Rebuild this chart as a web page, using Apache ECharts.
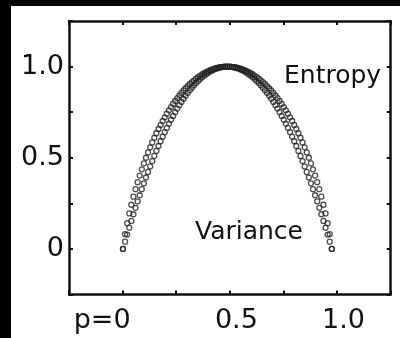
<!DOCTYPE html>
<html>
<head>
<meta charset="utf-8">
<script src="https://cdn.jsdelivr.net/npm/echarts@6/dist/echarts.min.js"></script>
<style>
  html, body { margin: 0; padding: 0; background: #000; width: 400px; height: 338px; overflow: hidden; }
  #chart { position: absolute; left: 11px; top: 6px; width: 389px; height: 332px; background: #fff; }
</style>
</head>
<body>
<div id="chart"></div>
<script>
// Probability of the outcome
const pValues = [
  0.00,0.01,0.02,0.03,0.04,0.05,0.06,0.07,0.08,0.09,
  0.10,0.11,0.12,0.13,0.14,0.15,0.16,0.17,0.18,0.19,
  0.20,0.21,0.22,0.23,0.24,0.25,0.26,0.27,0.28,0.29,
  0.30,0.31,0.32,0.33,0.34,0.35,0.36,0.37,0.38,0.39,
  0.40,0.41,0.42,0.43,0.44,0.45,0.46,0.47,0.48,0.49,
  0.50,0.51,0.52,0.53,0.54,0.55,0.56,0.57,0.58,0.59,
  0.60,0.61,0.62,0.63,0.64,0.65,0.66,0.67,0.68,0.69,
  0.70,0.71,0.72,0.73,0.74,0.75,0.76,0.77,0.78,0.79,
  0.80,0.81,0.82,0.83,0.84,0.85,0.86,0.87,0.88,0.89,
  0.90,0.91,0.92,0.93,0.94,0.95,0.96,0.97,0.98,0.99,
  1.00
];

// Binary entropy (bits)
const entropy = [
  0,0.0808,0.1414,0.1944,0.2423,0.2864,0.3274,0.3659,0.4022,0.4365,
  0.4690,0.4999,0.5294,0.5574,0.5842,0.6098,0.6343,0.6577,0.6801,0.7015,
  0.7219,0.7415,0.7602,0.7780,0.7950,0.8113,0.8267,0.8415,0.8555,0.8687,
  0.8813,0.8932,0.9044,0.9149,0.9248,0.9341,0.9427,0.9507,0.9580,0.9648,
  0.9710,0.9765,0.9815,0.9858,0.9896,0.9928,0.9954,0.9974,0.9988,0.9997,
  1.0000,0.9997,0.9988,0.9974,0.9954,0.9928,0.9896,0.9858,0.9815,0.9765,
  0.9710,0.9648,0.9580,0.9507,0.9427,0.9341,0.9248,0.9149,0.9044,0.8932,
  0.8813,0.8687,0.8555,0.8415,0.8267,0.8113,0.7950,0.7780,0.7602,0.7415,
  0.7219,0.7015,0.6801,0.6577,0.6343,0.6098,0.5842,0.5574,0.5294,0.4999,
  0.4690,0.4365,0.4022,0.3659,0.3274,0.2864,0.2423,0.1944,0.1414,0.0808,
  0
];

// Normalised variance
const variance = [
  0,0.0396,0.0784,0.1164,0.1536,0.1900,0.2256,0.2604,0.2944,0.3276,
  0.3600,0.3916,0.4224,0.4524,0.4816,0.5100,0.5376,0.5644,0.5904,0.6156,
  0.6400,0.6636,0.6864,0.7084,0.7296,0.7500,0.7696,0.7884,0.8064,0.8236,
  0.8400,0.8556,0.8704,0.8844,0.8976,0.9100,0.9216,0.9324,0.9424,0.9516,
  0.9600,0.9676,0.9744,0.9804,0.9856,0.9900,0.9936,0.9964,0.9984,0.9996,
  1.0000,0.9996,0.9984,0.9964,0.9936,0.9900,0.9856,0.9804,0.9744,0.9676,
  0.9600,0.9516,0.9424,0.9324,0.9216,0.9100,0.8976,0.8844,0.8704,0.8556,
  0.8400,0.8236,0.8064,0.7884,0.7696,0.7500,0.7296,0.7084,0.6864,0.6636,
  0.6400,0.6156,0.5904,0.5644,0.5376,0.5100,0.4816,0.4524,0.4224,0.3916,
  0.3600,0.3276,0.2944,0.2604,0.2256,0.1900,0.1536,0.1164,0.0784,0.0396,
  0
];

const xTickValues = [0, 0.5, 1];
const xTickText = ['p=0', '0.5', '1.0'];
const yTickValues = [0, 0.5, 1];
const yTickText = ['0', '0.5', '1.0'];

const FONT = 'DejaVu Sans';
const INK = '#111';

function tickText(values, texts, v) {
  for (let i = 0; i < values.length; i++) {
    if (Math.abs(values[i] - v) < 1e-6) return texts[i];
  }
  return '';
}

const boxAxisLine = { show: true, onZero: false, lineStyle: { color: INK, width: 2.5 } };
const boxTick = { show: true, inside: true, length: 4, lineStyle: { color: INK, width: 2 } };
const markerStyle = { color: 'rgba(0,0,0,0)', borderColor: '#222', borderWidth: 1.3 };

const chart = echarts.init(document.getElementById('chart'), null, { renderer: 'canvas' });

chart.setOption({
  animation: false,
  backgroundColor: '#fff',
  grid: { left: 58, top: 15, right: 9.3, bottom: 43.5, containLabel: false },
  xAxis: [
    {
      type: 'value', position: 'bottom', min: -0.25, max: 1.25, interval: 0.25,
      axisLine: boxAxisLine, axisTick: boxTick, splitLine: { show: false },
      axisLabel: {
        margin: 13,
        formatter: v => {
          const t = tickText(xTickValues, xTickText, v);
          if (!t) return '';
          return (Math.abs(v) < 1e-6 ? '{z|' : '{n|') + t + '}';
        },
        rich: {
          z: { fontFamily: FONT, fontSize: 27, color: INK, padding: [0, 41, 0, 0] },
          n: { fontFamily: FONT, fontSize: 27, color: INK, padding: [0, 0, 0, 13] }
        }
      }
    },
    {
      type: 'value', position: 'top', min: -0.25, max: 1.25, interval: 0.25,
      axisLine: boxAxisLine, axisTick: boxTick, axisLabel: { show: false }, splitLine: { show: false }
    },
    {
      // scale used to place the sampled points
      type: 'value', show: false, min: -0.2586, max: 1.2821
    }
  ],
  yAxis: [
    {
      type: 'value', position: 'left', min: -0.25, max: 1.25, interval: 0.25,
      axisLine: boxAxisLine, axisTick: boxTick, splitLine: { show: false },
      axisLabel: {
        margin: 5, padding: [7, 0, 0, 0],
        fontFamily: FONT, fontSize: 27, color: INK,
        formatter: v => tickText(yTickValues, yTickText, v)
      }
    },
    {
      type: 'value', position: 'right', min: -0.25, max: 1.25, interval: 0.25,
      axisLine: boxAxisLine, axisTick: boxTick, axisLabel: { show: false }, splitLine: { show: false }
    }
  ],
  series: [
    {
      name: 'Entropy', type: 'scatter', xAxisIndex: 2, yAxisIndex: 0,
      symbol: 'circle', symbolSize: 5, itemStyle: markerStyle,
      data: pValues.map((p, i) => [p, entropy[i]])
    },
    {
      name: 'Variance', type: 'scatter', xAxisIndex: 2, yAxisIndex: 0,
      symbol: 'circle', symbolSize: 5, itemStyle: markerStyle,
      data: pValues.map((p, i) => [p, variance[i]])
    }
  ],
  graphic: [
    {
      type: 'text', left: 273, top: 58, z: 10,
      style: { text: 'Entropy', font: '25px "DejaVu Sans"', fill: INK }
    },
    {
      type: 'text', left: 184, top: 214, z: 10,
      style: { text: 'Variance', font: '25px "DejaVu Sans"', fill: INK }
    }
  ]
});
</script>
</body>
</html>
